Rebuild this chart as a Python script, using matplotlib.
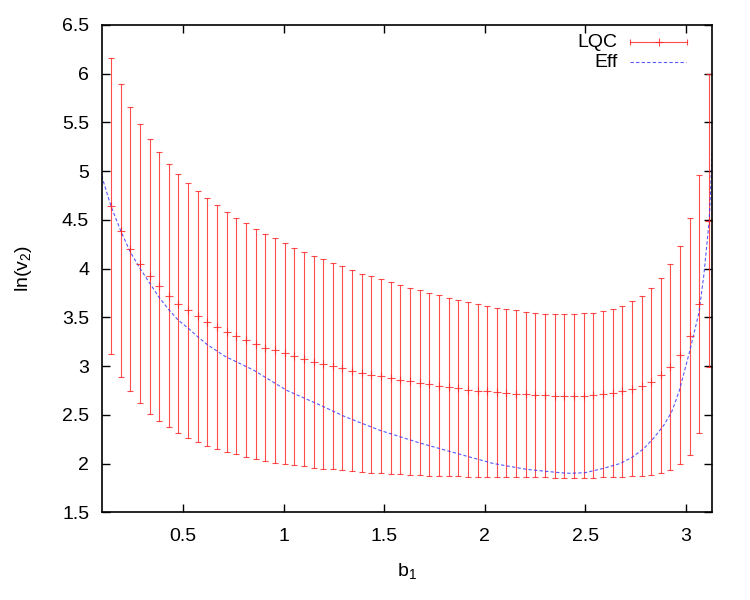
import numpy as np
import matplotlib
matplotlib.use("Agg")
import matplotlib.pyplot as plt
from matplotlib.ticker import FormatStrFormatter

plt.rcParams['font.family'] = ['Liberation Sans', 'DejaVu Sans']
plt.rcParams['mathtext.default'] = 'regular'
plt.rcParams['font.size'] = 13

# LQC points (x, mean, half-width of error bar)
b1 = [0.140, 0.188, 0.236, 0.284, 0.332, 0.380, 0.428, 0.476, 0.524, 0.572,
      0.620, 0.668, 0.716, 0.764, 0.812, 0.860, 0.908, 0.956, 1.004, 1.052,
      1.100, 1.148, 1.196, 1.244, 1.292, 1.340, 1.388, 1.436, 1.484, 1.532,
      1.580, 1.628, 1.676, 1.724, 1.772, 1.820, 1.868, 1.916, 1.964, 2.012,
      2.060, 2.108, 2.156, 2.204, 2.252, 2.300, 2.348, 2.396, 2.444, 2.492,
      2.540, 2.588, 2.636, 2.684, 2.732, 2.780, 2.828, 2.876, 2.924, 2.972,
      3.020, 3.068, 3.116]
lqc = [4.64, 4.39, 4.20, 4.05, 3.92, 3.82, 3.72, 3.64, 3.57, 3.51,
       3.45, 3.40, 3.35, 3.31, 3.27, 3.23, 3.19, 3.16, 3.13, 3.10,
       3.07, 3.045, 3.02, 3.00, 2.976, 2.951, 2.929, 2.912, 2.895, 2.875,
       2.859, 2.842, 2.828, 2.813, 2.799, 2.787, 2.775, 2.758, 2.748, 2.740,
       2.730, 2.722, 2.715, 2.708, 2.702, 2.698, 2.694, 2.694, 2.694, 2.697,
       2.701, 2.710, 2.724, 2.741, 2.767, 2.797, 2.840, 2.903, 2.988, 3.114,
       3.303, 3.637, 4.490]
lqc_err = [1.52, 1.50, 1.46, 1.43, 1.41, 1.38, 1.35, 1.33, 1.31, 1.29,
           1.27, 1.25, 1.23, 1.21, 1.20, 1.18, 1.16, 1.15, 1.13, 1.11,
           1.10, 1.087, 1.074, 1.06, 1.045, 1.031, 1.019, 1.009, 0.995, 0.985,
           0.969, 0.959, 0.949, 0.937, 0.927, 0.915, 0.906, 0.896, 0.886, 0.880,
           0.870, 0.862, 0.857, 0.850, 0.845, 0.840, 0.838, 0.838, 0.838, 0.842,
           0.846, 0.851, 0.865, 0.879, 0.898, 0.925, 0.961, 1.003, 1.057, 1.122,
           1.212, 1.327, 1.503]

# effective curve
eff_b = [0.094, 0.140, 0.188, 0.236, 0.285, 0.333, 0.381, 0.427, 0.475, 0.523,
         0.572, 0.619, 0.707, 0.848, 1.015, 1.180, 1.305, 1.479, 1.678, 1.902,
         2.043, 2.209, 2.374, 2.424, 2.499, 2.590, 2.673, 2.730, 2.790, 2.840,
         2.890, 2.930, 2.967, 3.017, 3.066, 3.091, 3.117, 3.132]
eff_v = [4.95, 4.64, 4.39, 4.17, 4.00, 3.85, 3.70, 3.58, 3.47, 3.39,
         3.30, 3.22, 3.10, 2.96, 2.75, 2.60, 2.48, 2.34, 2.21, 2.08,
         2.00, 1.94, 1.906, 1.90, 1.906, 1.95, 2.00, 2.06, 2.15, 2.26,
         2.39, 2.53, 2.74, 3.13, 3.55, 3.95, 4.50, 5.20]

xticks = [0.5, 1, 1.5, 2, 2.5, 3]
yticks = [1.5, 2, 2.5, 3, 3.5, 4, 4.5, 5, 5.5, 6, 6.5]

red = '#ff2020'
blue = '#3030ff'

fig = plt.figure(figsize=(7.5, 6), dpi=100)
ax = fig.add_axes([0.1356, 0.1462, 0.8141, 0.8125])

ax.errorbar(b1, lqc, yerr=lqc_err, fmt='+', color=red, ecolor=red,
            elinewidth=0.8, capsize=2.5, capthick=0.8, markersize=6, mew=0.8,
            alpha=0.8)
ax.plot(eff_b, eff_v, color=blue, lw=0.8, dashes=(3, 2), alpha=0.8)

ax.set_xlim(0.094, 3.132)
ax.set_ylim(1.5, 6.5)
ax.set_xticks(xticks)
ax.set_yticks(yticks)
ax.xaxis.set_major_formatter(FormatStrFormatter('%g'))
ax.yaxis.set_major_formatter(FormatStrFormatter('%g'))
ax.tick_params(direction='in', length=6, width=1, top=True, right=True,
               labelsize=14)
ax.tick_params(axis='x', pad=11)
ax.tick_params(axis='y', pad=9)
for s in ax.spines.values():
    s.set_linewidth(1.2)

ax.set_xlabel('b$_1$', fontsize=14, labelpad=12)
ax.set_ylabel('ln(v$_2$)', fontsize=14, labelpad=20)

# legend drawn by hand, gnuplot style
ax.text(0.845, 0.964, 'LQC', transform=ax.transAxes, ha='right', va='center',
        fontsize=14)
ax.plot([0.865, 0.959], [0.964, 0.964], transform=ax.transAxes, color=red,
        lw=0.8, alpha=0.8)
ax.plot([0.865, 0.959], [0.964, 0.964], transform=ax.transAxes, ls='none',
        marker='|', markersize=5, mew=0.8, color=red, alpha=0.8)
ax.plot([0.912], [0.964], transform=ax.transAxes, ls='none', marker='+',
        markersize=6, mew=0.8, color=red, alpha=0.8)
ax.text(0.845, 0.923, 'Eff', transform=ax.transAxes, ha='right', va='center',
        fontsize=14)
ax.plot([0.866, 0.957], [0.923, 0.923], transform=ax.transAxes, color=blue,
        lw=0.8, dashes=(3, 2), alpha=0.8)

fig.savefig('out.png', dpi=100)
